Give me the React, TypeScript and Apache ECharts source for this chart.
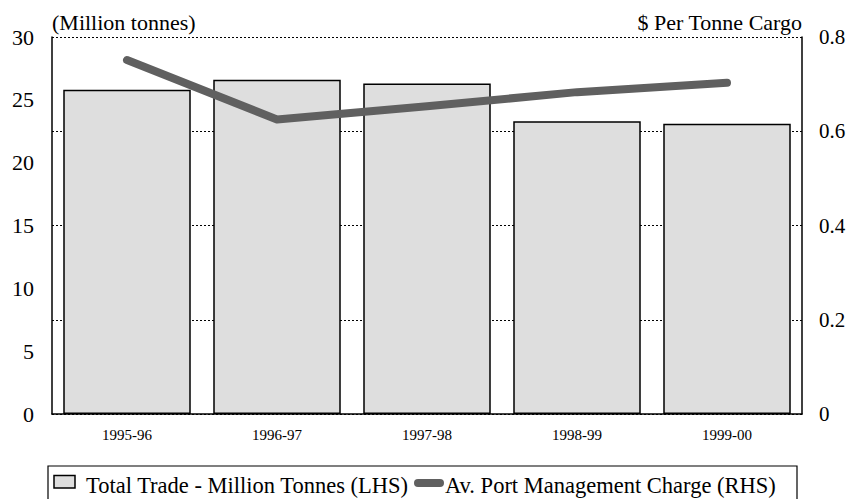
import React, { useEffect, useRef } from "react";
import * as echarts from "echarts";

const categories = ["1995-96", "1996-97", "1997-98", "1998-99", "1999-00"];
const totalTrade = [25.8, 26.6, 26.3, 23.3, 23.1];
const portCharge = [0.751, 0.625, 0.653, 0.683, 0.703];
const leftTitle = "(Million tonnes)";
const rightTitle = "$ Per Tonne Cargo";
const barName = "Total Trade - Million Tonnes (LHS)";
const lineName = "Av. Port Management Charge (RHS)";

const FONT = "'Liberation Serif', 'Times New Roman', serif";

export default function App() {
  const ref = useRef<HTMLDivElement>(null);
  useEffect(() => {
    if (!ref.current) return;
    const chart = echarts.init(ref.current, undefined, { renderer: "svg" });
    chart.setOption({
      animation: false,
      backgroundColor: "#ffffff",
      textStyle: { fontFamily: FONT },
      grid: { left: 52, right: 50, top: 37, bottom: 85, containLabel: false },
      xAxis: {
        type: "category",
        data: categories,
        axisLine: { show: true, lineStyle: { color: "#000", width: 1.5 } },
        axisTick: { show: false },
        axisLabel: { fontFamily: FONT, fontSize: 15, color: "#000", margin: 13 },
      },
      yAxis: [
        {
          type: "value",
          min: 0,
          max: 30,
          interval: 5,
          name: leftTitle,
          nameLocation: "end",
          nameGap: 4,
          nameTextStyle: { fontFamily: FONT, fontSize: 22, color: "#000", align: "left" },
          axisLine: { show: true, lineStyle: { color: "#000", width: 1.5 } },
          axisTick: { show: false },
          splitLine: { show: false },
          axisLabel: { fontFamily: FONT, fontSize: 22, color: "#000", margin: 18, padding: [6, 0, 0, 0] },
        },
        {
          type: "value",
          min: 0,
          max: 0.8,
          interval: 0.2,
          position: "right",
          name: rightTitle,
          nameLocation: "end",
          nameGap: 4,
          nameTextStyle: { fontFamily: FONT, fontSize: 22, color: "#000", align: "right" },
          axisLine: { show: true, lineStyle: { color: "#000", width: 1.5 } },
          axisTick: { show: false },
          splitLine: { show: true, lineStyle: { color: "#000", type: [2, 2], width: 1 } },
          axisLabel: { fontFamily: FONT, fontSize: 21, color: "#000", margin: 17, padding: [5, 0, 0, 0] },
        },
      ],
      series: [
        {
          type: "bar",
          name: barName,
          data: totalTrade,
          yAxisIndex: 0,
          barCategoryGap: "15%",
          itemStyle: { color: "#dedede", borderColor: "#000", borderWidth: 1.5 },
        },
        {
          type: "line",
          name: lineName,
          data: portCharge,
          yAxisIndex: 1,
          symbol: "none",
          lineStyle: { color: "#606060", width: 8, cap: "round", join: "round" },
        },
      ],
      graphic: [
        {
          type: "rect",
          shape: { x: 48, y: 466, width: 749, height: 44 },
          style: { fill: "#fff", stroke: "#000", lineWidth: 1.2 },
        },
        {
          type: "rect",
          shape: { x: 54, y: 475.5, width: 21, height: 12.5 },
          style: { fill: "#dedede", stroke: "#000", lineWidth: 1.5 },
        },
        {
          type: "text",
          x: 86,
          y: 485,
          style: { text: barName, fontFamily: FONT, fontSize: 22.5, fill: "#000", verticalAlign: "middle" },
        },
        {
          type: "line",
          shape: { x1: 418, y1: 483, x2: 440, y2: 483 },
          style: { stroke: "#606060", lineWidth: 8, lineCap: "round" },
        },
        {
          type: "text",
          x: 445,
          y: 485,
          style: { text: lineName, fontFamily: FONT, fontSize: 22.5, fill: "#000", verticalAlign: "middle" },
        },
      ],
    });
    return () => chart.dispose();
  }, []);
  return <div ref={ref} style={{ width: 852, height: 499, position: "absolute", left: 0, top: 0 }} />;
}
